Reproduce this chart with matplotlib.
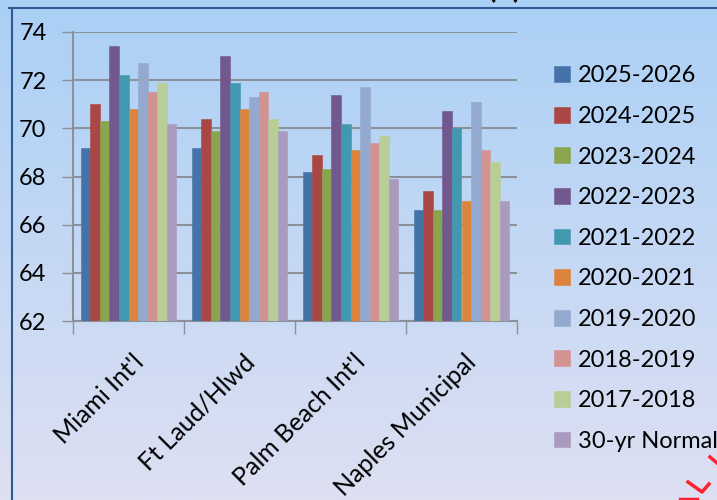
import numpy as np
import matplotlib
matplotlib.use("Agg")
import matplotlib.pyplot as plt
from matplotlib.lines import Line2D
from matplotlib.transforms import ScaledTranslation

plt.rcParams["font.family"] = ["Lato", "DejaVu Sans"]

# Stations and seasons
stations = ["Miami Int'l", "Ft Laud/Hlwd", "Palm Beach Int'l", "Naples Municipal"]
seasons = ["2025-2026", "2024-2025", "2023-2024", "2022-2023", "2021-2022",
           "2020-2021", "2019-2020", "2018-2019", "2017-2018", "30-yr Normal"]

# Average temperature (F) per season, one value per station
t_2025_2026 = [69.2, 69.2, 68.2, 66.6]
t_2024_2025 = [71.0, 70.4, 68.9, 67.4]
t_2023_2024 = [70.3, 69.9, 68.3, 66.6]
t_2022_2023 = [73.4, 73.0, 71.4, 70.7]
t_2021_2022 = [72.2, 71.9, 70.2, 70.0]
t_2020_2021 = [70.8, 70.8, 69.1, 67.0]
t_2019_2020 = [72.7, 71.3, 71.7, 71.1]
t_2018_2019 = [71.5, 71.5, 69.4, 69.1]
t_2017_2018 = [71.9, 70.4, 69.7, 68.6]
t_normal = [70.2, 69.9, 67.9, 67.0]

series = [t_2025_2026, t_2024_2025, t_2023_2024, t_2022_2023, t_2021_2022,
          t_2020_2021, t_2019_2020, t_2018_2019, t_2017_2018, t_normal]

colors = ["#4572A7", "#AA4643", "#89A54E", "#71588F", "#4198AF",
          "#DB843D", "#93A9CF", "#D19392", "#B9CD96", "#A99BBD"]

fig = plt.figure(figsize=(7.17, 5.0), dpi=100)

# gradient background
bg = fig.add_axes([0, 0, 1, 1], zorder=-10)
top = np.array([170, 208, 246]) / 255
bot = np.array([222, 224, 242]) / 255
t = np.linspace(0, 1, 256)[:, None]
grad = (top * (1 - t) + bot * t)[:, None, :]
bg.imshow(grad, aspect="auto", extent=[0, 1, 0, 1])
bg.axis("off")

# frame lines of the chart area
fig.add_artist(Line2D([9 / 717, 1], [1 - 8 / 500, 1 - 8 / 500],
                      transform=fig.transFigure, color="#2e5a92", lw=1.5))
fig.add_artist(Line2D([12 / 717, 12 / 717], [0, 1 - 8 / 500],
                      transform=fig.transFigure, color="#2e5a92", lw=1.5))

# title mostly cut off at the top edge
fig.text(0.728, 1.006, "(F)", ha="right", va="baseline", fontsize=22,
         fontweight="bold", color="black")

ax = fig.add_axes([73 / 717, 1 - 321 / 500, 444 / 717, 289 / 500])
ax.set_facecolor("none")

n = len(series)
bw = 0.086
x = np.arange(len(stations))
for i, (vals, c) in enumerate(zip(series, colors)):
    offs = (i - (n - 1) / 2) * bw
    ax.bar(x + offs, np.array(vals) - 62, bw, bottom=62, color=c,
           label=seasons[i], zorder=3, edgecolor=c, linewidth=0.4)

ax.set_ylim(62, 74)
ax.set_xlim(-0.5, len(stations) - 0.5)
ax.set_yticks(np.arange(62, 75, 2))
ax.yaxis.grid(True, color="#8c9099", lw=1.5, zorder=0)
ax.tick_params(axis="y", length=8, width=1, color="#8c9099", pad=11,
               labelsize=17)

# category boundaries as ticks, labels at centres
ax.set_xticks(np.arange(-0.5, len(stations)), minor=False)
ax.set_xticklabels([])
ax.set_xticks(x, minor=True)
ax.set_xticklabels(stations, minor=True, rotation=45, ha="right", va="top",
                   rotation_mode="anchor", fontsize=18)
ax.tick_params(axis="x", which="major", length=9, width=1, color="#8c9099")
ax.tick_params(axis="x", which="minor", length=0, pad=21)
shift = ScaledTranslation(3 / 100, 0, fig.dpi_scale_trans)
for lbl in ax.get_xticklabels(minor=True):
    lbl.set_transform(lbl.get_transform() + shift)

for s in ["top", "right"]:
    ax.spines[s].set_visible(False)
for s in ["left", "bottom"]:
    ax.spines[s].set_color("#8c9099")
    ax.spines[s].set_linewidth(1.5)

leg = fig.legend(loc="upper left", bbox_to_anchor=(545 / 717, 1 - 56 / 500),
                 frameon=False, fontsize=17, handlelength=0.65, handleheight=0.65,
                 handletextpad=0.35, labelspacing=0.83, borderaxespad=0)

# red marks at the bottom right corner
for xs, ys in [([710, 717], [457, 463]),
               ([688, 702, 709], [482, 492, 484]),
               ([680, 697], [499, 499])]:
    fig.add_artist(Line2D(np.array(xs) / 717, 1 - np.array(ys) / 500,
                          transform=fig.transFigure, color="#ff2030", lw=2.5))

fig.savefig("out.png", dpi=100)
